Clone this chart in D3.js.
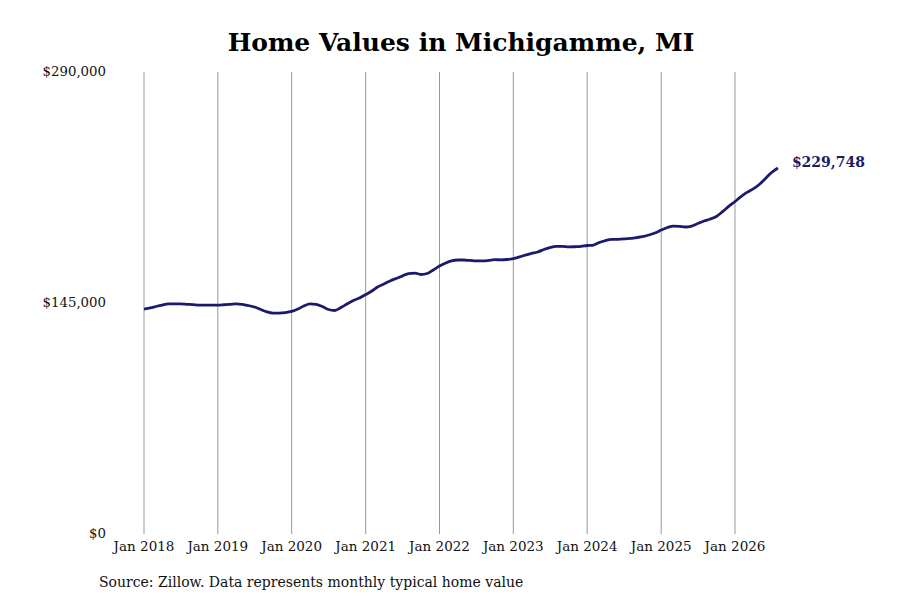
<!DOCTYPE html>
<html>
<head>
<meta charset="utf-8">
<script src="https://cdn.jsdelivr.net/npm/d3@7"></script>
<style>
  body { margin: 0; background: #fff; }
  text { font-family: "DejaVu Serif", serif; }
</style>
</head>
<body>
<svg id="chart" width="900" height="600"></svg>
<script>
// monthly typical home value, Jan 2018 .. Aug 2026
const startMonth = new Date(2018, 0, 1);
const values = [
  141200, 141900, 142800, 143700, 144400, 144400, 144400, 144200, 144000, 143700, 143700, 143700,
  143700, 143900, 144100, 144400, 144100, 143400, 142500, 140900, 139400, 138700, 138700, 139000,
  139700, 141200, 143100, 144400, 144100, 142800, 140900, 140300, 142200, 144400, 146600, 148100,
  150300, 152500, 155000, 156900, 158800, 160400, 161900, 163500, 163800, 162900, 163500, 165700,
  168200, 170100, 171400, 172000, 172000, 171700, 171400, 171400, 171700, 172200, 172100, 172300,
  172900, 173900, 175100, 176100, 177000, 178600, 179800, 180500, 180500, 180200, 180300, 180500,
  181100, 181400, 183000, 184200, 184900, 185000, 185200, 185500, 186100, 186700, 187700, 188900,
  190800, 192400, 193300, 193100, 192700, 193300, 194900, 196500, 197700, 199300, 202400, 205600,
  208700, 211900, 214400, 216600, 219400, 223200, 226900, 229748
];
const yTicks = [0, 145000, 290000];
const xTickYears = [2018, 2019, 2020, 2021, 2022, 2023, 2024, 2025, 2026];

const data = values.map((v, i) => ({
  date: new Date(startMonth.getFullYear(), startMonth.getMonth() + i, 1),
  value: v
}));

const svg = d3.select('#chart');
const margin = {top: 72, left: 144, bottom: 66};
const height = +svg.attr('height');

const x = d3.scaleTime()
  .domain([new Date(2018, 0, 1), new Date(2026, 0, 1)])
  .range([144, 735]);

const y = d3.scaleLinear()
  .domain([0, 290000])
  .range([height - margin.bottom, margin.top]);

const tickDates = xTickYears.map(yr => new Date(yr, 0, 1));

// vertical grid lines
svg.append('g')
  .selectAll('line').data(tickDates)
  .enter().append('line')
  .attr('x1', d => x(d)).attr('x2', d => x(d))
  .attr('y1', y(290000)).attr('y2', y(0))
  .attr('stroke', '#999')
  .attr('stroke-width', 1);

// x labels
svg.append('g')
  .selectAll('text').data(tickDates)
  .enter().append('text')
  .attr('x', d => x(d))
  .attr('y', y(0) + 17)
  .attr('text-anchor', 'middle')
  .attr('font-size', 13.5)
  .attr('fill', '#111')
  .text(d => d3.timeFormat('Jan %Y')(d));

// y labels
const fmt = d3.format('$,');
svg.append('g')
  .selectAll('text').data(yTicks)
  .enter().append('text')
  .attr('x', 106)
  .attr('y', d => y(d))
  .attr('dy', '0.3em')
  .attr('text-anchor', 'end')
  .attr('font-size', 13.3)
  .attr('fill', '#111')
  .text(d => fmt(d));

// line
const line = d3.line()
  .x(d => x(d.date))
  .y(d => y(d.value))
  .curve(d3.curveMonotoneX);

svg.append('path')
  .datum(data)
  .attr('fill', 'none')
  .attr('stroke', '#1b1a6c')
  .attr('stroke-width', 2.8)
  .attr('stroke-linejoin', 'round')
  .attr('d', line);

// last value label
const last = data[data.length - 1];
svg.append('text')
  .attr('x', x(last.date) + 14)
  .attr('y', y(last.value) - 6)
  .attr('dy', '0.35em')
  .attr('font-size', 14)
  .attr('font-weight', 'bold')
  .attr('fill', '#1b1a6c')
  .text(fmt(last.value));

// title
svg.append('text')
  .attr('x', 461)
  .attr('y', 51)
  .attr('text-anchor', 'middle')
  .attr('font-size', 25)
  .attr('font-weight', 'bold')
  .attr('fill', '#000')
  .text('Home Values in Michigamme, MI');

// source note
svg.append('text')
  .attr('x', 99)
  .attr('y', 587)
  .attr('font-size', 14)
  .attr('fill', '#111')
  .text('Source: Zillow. Data represents monthly typical home value');
</script>
</body>
</html>
